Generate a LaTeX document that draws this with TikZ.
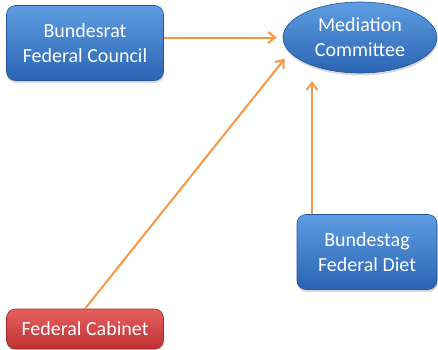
\documentclass[tikz,border=0pt]{standalone}
\usepackage{fontspec}
\setmainfont{Carlito}
\usepackage{xcolor}
\usepackage{tikz}
\usetikzlibrary{shapes.geometric, arrows.meta, positioning, calc, shadows}
\definecolor{BoxBlueTop}{HTML}{5E9DE2}
\definecolor{BoxBlueBot}{HTML}{2A64B2}
\definecolor{BoxRedTop}{HTML}{E66060}
\definecolor{BoxRedBot}{HTML}{BE3030}
\definecolor{LinkOrange}{HTML}{F79646}

\begin{document}
\begin{tikzpicture}[x=1pt, y=-1pt,
    box/.style={rounded corners=9pt, minimum width=157pt, minimum height=75pt, inner sep=0pt,
                align=center, text=white, font=\fontsize{20}{25}\selectfont, line width=0.6pt,
                draw=BoxBlueBot!85!black, top color=BoxBlueTop, bottom color=BoxBlueBot,
                drop shadow={shadow xshift=0.5pt, shadow yshift=-2.5pt, opacity=0.3}},
    redbox/.style={box, draw=BoxRedBot!85!black, top color=BoxRedTop, bottom color=BoxRedBot},
    arrow/.style={-{Straight Barb[length=7pt, width=11pt]}, line width=2pt, LinkOrange}
  ]
    \useasboundingbox (0,0) rectangle (438,349);

    \node[box] (bundesrat) at (85,43) {Bundesrat\\Federal Council};
    \node[box, ellipse, rounded corners=0pt, minimum width=154pt, minimum height=71pt] (mediation) at (360,37.5) {Mediation\\Committee};
    \node[box, minimum width=140pt] (bundestag) at (367,252) {Bundestag\\Federal Diet};
    \node[redbox, minimum height=40pt] (cabinet) at (85,329) {Federal Cabinet};

    \draw[arrow, shorten >=6pt] (bundesrat.east |- mediation.west) -- (mediation.west);
    \draw[arrow, shorten >=8pt] (cabinet.north) -- (mediation.192);
    \draw[arrow, shorten >=8pt] ([xshift=-55pt]bundestag.north) -- ([xshift=-55pt]bundestag.north |- mediation.south);
  \end{tikzpicture}
\end{document}
